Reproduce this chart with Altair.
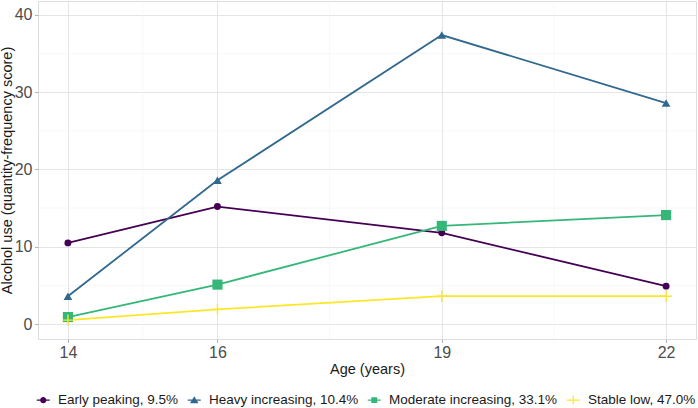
import altair as alt
import pandas as pd

# Trajectory classes and their mean alcohol-use scores at each wave
ages = [14, 16, 19, 22]
groups = [
    "Early peaking, 9.5%",
    "Heavy increasing, 10.4%",
    "Moderate increasing, 33.1%",
    "Stable low, 47.0%",
]
early_peaking = [10.5, 15.2, 11.8, 4.9]
heavy_increasing = [3.6, 18.6, 37.4, 28.6]
moderate_increasing = [0.9, 5.1, 12.7, 14.1]
stable_low = [0.5, 1.9, 3.6, 3.6]

colors = ["#440154", "#31688E", "#35B779", "#FDE725"]

x_ticks = [14, 16, 19, 22]
y_ticks = [0, 10, 20, 30, 40]
x_minor = [15, 17.5, 20.5]
y_minor = [5, 15, 25, 35]

series = [early_peaking, heavy_increasing, moderate_increasing, stable_low]
rows = []
for g, vals in zip(groups, series):
    for a, v in zip(ages, vals):
        rows.append({"age": a, "score": v, "group": g})
df = pd.DataFrame(rows)

# marker shapes on the plot (custom thin plus for the last class)
plot_shapes = [
    "circle",
    "triangle-up",
    "square",
    "M-1,-0.12H1V0.12H-1Z M-0.12,-1H0.12V1H-0.12Z",
]
plot_sizes = [48, 130, 55, 70]

# legend keys: a short line segment with the marker on top
key_line = "M-1,-0.09H1V0.09H-1Z "
legend_shapes = [
    key_line + "M-0.47,0A0.47,0.47,0,1,1,0.47,0A0.47,0.47,0,1,1,-0.47,0Z",
    key_line + "M0,-0.6L0.66,0.48L-0.66,0.48Z",
    key_line + "M-0.46,-0.46H0.46V0.46H-0.46Z",
    key_line + "M-0.09,-0.7H0.09V0.7H-0.09Z",
]

FONT = "Liberation Sans"

x_scale = alt.Scale(domain=[13.6, 22.4], nice=False, zero=False)
y_scale = alt.Scale(domain=[-1.94, 41.81], nice=False, zero=False)

x_axis = alt.Axis(
    values=x_ticks, format="d", title="Age (years)", grid=True,
    gridColor="#e2e2e2", gridWidth=0.9, domain=False,
    tickColor="#b3b3b3", tickSize=3.5, labelPadding=2,
    labelFont=FONT, labelFontSize=16, labelColor="#4d4d4d",
    titleFont=FONT, titleFontSize=14.5, titleFontWeight="normal",
    titleColor="#1a1a1a", titlePadding=2,
)
y_axis = alt.Axis(
    values=y_ticks, format="d", title="Alcohol use (quantity-frequency score)",
    grid=True, gridColor="#e2e2e2", gridWidth=0.9, domain=False,
    tickColor="#b3b3b3", tickSize=3.5, labelPadding=2.5,
    labelFont=FONT, labelFontSize=16, labelColor="#4d4d4d",
    titleFont=FONT, titleFontSize=14.5, titleFontWeight="normal",
    titleColor="#1a1a1a", titleAngle=270, titleBaseline="bottom",
    titleX=-24,
)

X = alt.X("age:Q", scale=x_scale, axis=x_axis)
Y = alt.Y("score:Q", scale=y_scale, axis=y_axis)

color_plain = alt.Color(
    "group:N", scale=alt.Scale(domain=groups, range=colors), legend=None
)

minor_v = (
    alt.Chart(pd.DataFrame({"age": x_minor}))
    .mark_rule(color="#f1f1f1", strokeWidth=0.6)
    .encode(x=alt.X("age:Q", scale=x_scale, axis=x_axis))
)
minor_h = (
    alt.Chart(pd.DataFrame({"score": y_minor}))
    .mark_rule(color="#f1f1f1", strokeWidth=0.6)
    .encode(y=alt.Y("score:Q", scale=y_scale, axis=y_axis))
)

lines = (
    alt.Chart(df)
    .mark_line(strokeWidth=1.8)
    .encode(x=X, y=Y, color=color_plain, detail="group:N")
)

points = (
    alt.Chart(df)
    .mark_point(filled=True, opacity=1, strokeWidth=0)
    .encode(
        x=X,
        y=Y,
        color=color_plain,
        shape=alt.Shape(
            "group:N", scale=alt.Scale(domain=groups, range=plot_shapes), legend=None
        ),
        size=alt.Size(
            "group:N", scale=alt.Scale(domain=groups, range=plot_sizes), legend=None
        ),
    )
)

legend_props = dict(
    title=None, orient="none", direction="horizontal", columns=4,
    legendX=-1.5, legendY=392,
    symbolSize=169, symbolStrokeWidth=0, labelOffset=8,
    columnPadding=9, labelFont=FONT, labelFontSize=13.5,
    labelColor="#1a1a1a", labelLimit=300, padding=0,
)

legend_layer = (
    alt.Chart(df)
    .transform_filter("false")
    .mark_point(filled=True, opacity=1, size=169, strokeWidth=0)
    .encode(
        x=X,
        y=Y,
        color=alt.Color(
            "group:N",
            scale=alt.Scale(domain=groups, range=colors),
            legend=alt.Legend(**legend_props),
        ),
        shape=alt.Shape(
            "group:N",
            scale=alt.Scale(domain=groups, range=legend_shapes),
            legend=alt.Legend(**legend_props),
        ),
    )
)

chart = (
    alt.layer(minor_v, minor_h, lines, points, legend_layer)
    .resolve_scale(color="independent", shape="independent")
    .properties(
        width=658,
        height=338,
        autosize=alt.AutoSizeParams(type="none"),
        padding={"left": 38, "top": 1, "right": 2, "bottom": 69},
    )
    .configure_view(stroke="#c6c6c6", strokeWidth=1)
    .configure(background="white")
)

chart.save("out.html", embed_options={"renderer": "svg", "actions": False})
